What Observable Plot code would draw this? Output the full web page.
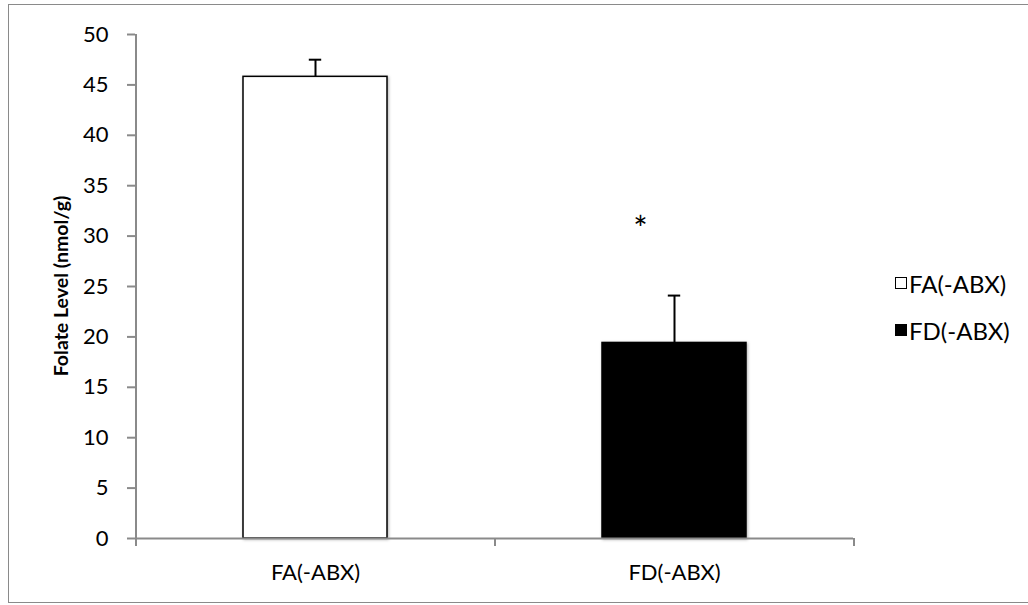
<!DOCTYPE html>
<html>
<head>
<meta charset="utf-8">
<script src="https://cdn.jsdelivr.net/npm/d3@7"></script>
<script src="https://cdn.jsdelivr.net/npm/@observablehq/plot@0.6"></script>
<style>
  html, body { margin: 0; padding: 0; background: #fff; }
  #wrap { position: relative; width: 1028px; height: 605px; overflow: hidden; font-family: Lato, "Open Sans", sans-serif; }
  #border { position: absolute; left: 8px; top: 4px; width: 1040px; height: 599px; border: 1.5px solid #8a8a8a; box-sizing: border-box; }
  #chart { position: absolute; left: 0; top: 0; }
  #ylabel { position: absolute; left: 61px; top: 286px; transform: translate(-50%, -50%) rotate(-90deg); white-space: nowrap; font-size: 19.5px; font-weight: bold; color: #000; line-height: 1; }
  #legend { position: absolute; left: 895px; top: 268px; font-size: 24px; color: #000; }
  #legend .row { display: flex; align-items: center; height: 30px; margin-bottom: 17px; }
  #legend .sw { width: 12px; height: 12px; box-sizing: border-box; border: 1.3px solid #000; margin-right: 2px; }
  svg .bar rect { filter: drop-shadow(1.5px 1.5px 1.5px rgba(0,0,0,0.3)); }
</style>
</head>
<body>
<div id="wrap">
  <div id="border"></div>
  <div id="chart"></div>
  <div id="ylabel"></div>
  <div id="legend"></div>
</div>
<script>
// ---- data ----
const categories = ["FA(-ABX)", "FD(-ABX)"];
const values = [45.8, 19.4];
const errors = [1.7, 4.7];
const fills = ["#ffffff", "#000000"];
const yTicks = [0, 5, 10, 15, 20, 25, 30, 35, 40, 45, 50];
const significance = [{ category: "FD(-ABX)", y: 31.5, label: "*" }];
const yLabel = "Folate Level (nmol/g)";

// ---- layout ----
const W = 1028, H = 605, ML = 135, MR = 175, MT = 34, MB = 67;
const step = (W - ML - MR) / categories.length;
const axisGray = "#8a8a8a";
const font = "Lato, 'Open Sans', sans-serif";

const rows = categories.map((c, i) => ({ category: c, value: values[i], err: errors[i], fill: fills[i] }));

const chart = Plot.plot({
  width: W,
  height: H,
  marginLeft: ML,
  marginRight: MR,
  marginTop: MT,
  marginBottom: MB,
  style: { fontFamily: font, background: "transparent", overflow: "visible" },
  x: { domain: categories, paddingInner: 0.6, paddingOuter: 0.3, axis: null },
  y: { domain: [0, 50], axis: null },
  marks: [
    // bars
    Plot.barY(rows, { x: "category", y: "value", fill: "fill", stroke: "#000", strokeWidth: 1.5, className: "bar" }),
    // error bars (upper only)
    Plot.ruleX(rows, { x: "category", y1: "value", y2: d => d.value + d.err, stroke: "#000", strokeWidth: 2 }),
    Plot.tickY(rows, { x: "category", y: d => d.value + d.err, stroke: "#000", strokeWidth: 2,
      insetLeft: (step * 0.4 - 12) / 2, insetRight: (step * 0.4 - 12) / 2 }),
    // significance marker
    Plot.text(significance, { x: "category", y: "y", text: "label", dx: -34, dy: 9.5, fontSize: 34, fill: "#000" }),
    // y axis line (left category boundary, extends below as a tick)
    Plot.ruleX(categories.slice(0, 1), { x: d => d, y1: 50, y2: 0, dx: -step / 2, insetBottom: -8, stroke: axisGray, strokeWidth: 2 }),
    Plot.axisY({ ticks: yTicks, tickSize: 8, tickPadding: 19, fontSize: 22, stroke: axisGray, fill: "#000", strokeWidth: 2, tickFormat: d => String(d), label: null }),
    // x axis line and category-boundary ticks
    Plot.ruleY([0], { stroke: axisGray, strokeWidth: 2 }),
    Plot.ruleX(categories.slice(1), { x: d => d, y1: 0, y2: 0, dx: -step / 2, insetBottom: -8, stroke: axisGray, strokeWidth: 2 }),
    Plot.ruleX(categories.slice(-1), { x: d => d, y1: 0, y2: 0, dx: step / 2, insetBottom: -8, stroke: axisGray, strokeWidth: 2 }),
    Plot.axisX({ tickSize: 0, tickPadding: 26, fontSize: 22, fill: "#000", label: null })
  ]
});
document.getElementById("chart").appendChild(chart);
document.getElementById("ylabel").textContent = yLabel;

// legend
const legend = document.getElementById("legend");
rows.forEach(r => {
  const row = document.createElement("div");
  row.className = "row";
  const sw = document.createElement("div");
  sw.className = "sw";
  sw.style.background = r.fill;
  const t = document.createElement("span");
  t.textContent = r.category;
  row.appendChild(sw);
  row.appendChild(t);
  legend.appendChild(row);
});
</script>
</body>
</html>
